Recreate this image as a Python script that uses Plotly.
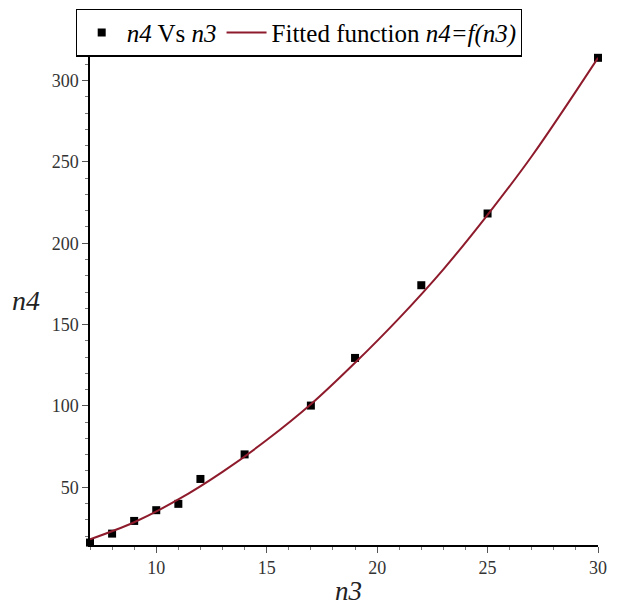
import plotly.graph_objects as go

# Data points
n3 = [7, 8, 9, 10, 11, 12, 14, 17, 19, 22, 25, 30]
n4 = [16, 21.5, 29.3, 35.9, 39.8, 55.1, 70.2, 100.2, 129.5, 174.2, 218.3, 314]

# Fitted curve samples
fit_x = [7, 9, 11, 13, 15, 17, 19, 21, 23, 25, 27, 30]
fit_y = [18, 28.5, 42.5, 59.5, 79, 101, 126.5, 154, 184, 217.5, 253.5, 314]

x_ticks = [10, 15, 20, 25, 30]
y_ticks = [50, 100, 150, 200, 250, 300]

FONT = "Liberation Serif, Times New Roman, serif"
RED = "#8e1b2c"

# page offset of the plot (browser body margin)
OFF = 8
W, H = 619 - OFF, 609 - OFF
L, R, T, B = 90 - OFF, 598 - OFF, 57 - OFF, 545 - OFF

fig = go.Figure()
fig.add_trace(go.Scatter(
    x=n3, y=n4, mode="markers",
    marker=dict(symbol="square", size=8, color="black"),
    name="<i>n4</i> Vs <i>n3</i>", cliponaxis=False))
fig.add_trace(go.Scatter(
    x=fit_x, y=fit_y, mode="lines", line=dict(color=RED, width=2, shape="spline"),
    name="Fitted function <i>n4=f(n3)</i>"))


def px_to_paper(px, py):
    return (px - OFF - L) / (R - L), (B - (py - OFF)) / (B - T)


lx, ly = px_to_paper(299, 8.6)
ax4x, ax4y = px_to_paper(26, 300)
ax3x, ax3y = px_to_paper(348, 591)

fig.update_layout(
    width=W, height=H,
    margin=dict(l=L, r=W - R, t=T, b=H - B, autoexpand=False),
    paper_bgcolor="white", plot_bgcolor="white",
    font=dict(family=FONT, size=18, color="#333333"),
    showlegend=True,
    legend=dict(orientation="h", x=lx, xanchor="center", y=ly, yanchor="top",
                bordercolor="black", borderwidth=1.2, bgcolor="white",
                font=dict(family=FONT, size=25, color="black"),
                itemwidth=40, tracegroupgap=0),
    xaxis=dict(range=[7, 30], tickvals=x_ticks, showgrid=False, zeroline=False,
               showline=True, linecolor="black", linewidth=1.5,
               ticks="outside", ticklen=6, tickcolor="#555", tickwidth=1,
               minor=dict(dtick=1, ticks="outside", ticklen=3, tickcolor="#777", showgrid=False),
               tickfont=dict(family=FONT, size=18, color="#333333")),
    yaxis=dict(range=[14.5, 314.5], tickvals=y_ticks, showgrid=False, zeroline=False,
               showline=True, linecolor="black", linewidth=1.5,
               ticks="outside", ticklen=6, tickcolor="#555", tickwidth=1,
               minor=dict(dtick=10, tick0=0, ticks="outside", ticklen=3, tickcolor="#777", showgrid=False),
               tickfont=dict(family=FONT, size=18, color="#333333")),
    annotations=[
        dict(text="<i>n4</i>", x=ax4x, y=ax4y, xref="paper", yref="paper", showarrow=False,
             xanchor="center", yanchor="middle",
             font=dict(family=FONT, size=28, color="#222")),
        dict(text="<i>n3</i>", x=ax3x, y=ax3y, xref="paper", yref="paper", showarrow=False,
             xanchor="center", yanchor="middle",
             font=dict(family=FONT, size=27, color="#222")),
    ],
)

fig.write_html("out.html")
